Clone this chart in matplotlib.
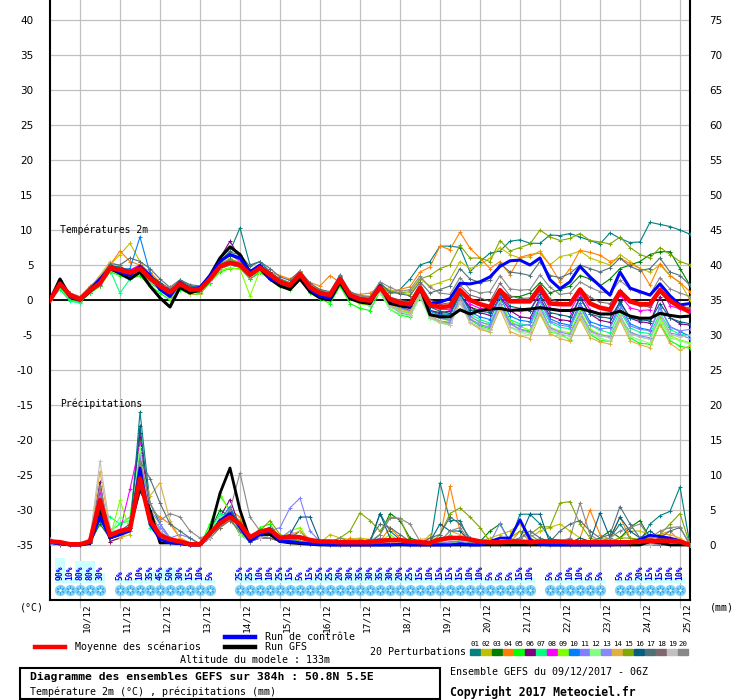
import numpy as np
import matplotlib
matplotlib.use('Agg')
import matplotlib.pyplot as plt
from matplotlib.lines import Line2D
from matplotlib.patches import Rectangle

MONO = 'DejaVu Sans Mono'

# time axis: 6-hourly steps, 0..384h from 09/12 06Z
hours = np.arange(65) * 6
day_ticks = np.arange(18, 384, 24)
day_labels = ['10/12', '11/12', '12/12', '13/12', '14/12', '15/12', '16/12', '17/12',
              '18/12', '19/12', '20/12', '21/12', '22/12', '23/12', '24/12', '25/12']

member_colors = ['#008080', '#c0c000', '#008000', '#ff8000', '#00ff00', '#800080', '#00ff80',
                 '#ff00ff', '#80ff00', '#0080ff', '#8080ff', '#80ff80', '#8888ff', '#e0b040',
                 '#80a800', '#006080', '#507078', '#806870', '#c0c0c0', '#888888']

# ---- 2m temperature (degC) ----
temp_mean = [0.0, 2.3, 0.7, 0.1, 1.4, 2.4, 4.6, 4.3, 3.9, 4.5, 3.1, 2.0, 1.1, 2.3, 1.5, 1.5, 3.0,
             4.8, 5.3, 5.0, 3.6, 4.6, 3.6, 2.6, 2.1, 3.7, 1.8, 1.0, 0.7, 3.0, 0.7, 0.1, -0.1,
             1.8, 0.1, -0.4, -0.6, 1.7, -0.7, -1.0, -0.9, 1.4, 0.0, -0.6, -1.0, 1.4, -0.2, -0.2,
             -0.2, 1.8, -0.5, -0.6, -0.6, 1.5, -0.5, -1.1, -1.4, 1.2, -0.2, -0.6, -0.6, 1.4, -0.1,
             -1.0, -1.7]
temp_ctrl = [0.0, 2.5, 0.5, 0.0, 1.5, 3.0, 4.5, 4.0, 3.5, 4.8, 3.5, 1.5, 0.5, 2.5, 1.5, 1.8, 3.5,
             5.5, 6.5, 6.0, 4.0, 5.0, 3.0, 2.5, 2.0, 3.8, 1.5, 0.5, 0.3, 3.0, 0.5, 0.0, 0.0,
             2.0, 0.0, -0.5, -0.8, 1.5, -0.5, -0.3, 0.2, 2.4, 2.3, 2.6, 3.3, 4.8, 5.6, 5.7, 5.0,
             6.0, 2.9, 1.6, 2.6, 4.8, 3.3, 2.0, 0.7, 4.0, 1.7, 1.2, 0.7, 2.3, 0.6, -0.7, -0.5]
temp_gfs = [0.0, 3.0, 0.5, 0.0, 1.2, 2.5, 4.5, 3.8, 3.0, 4.0, 2.0, 0.3, -1.0, 1.8, 1.0, 1.5, 3.5,
            6.0, 7.6, 6.5, 4.0, 4.5, 3.0, 2.0, 1.5, 3.0, 1.2, 0.3, 0.0, 2.5, 0.2, -0.3, -0.5,
            2.0, -0.5, -0.8, -1.0, 1.8, -2.1, -2.4, -2.4, -1.4, -2.0, -1.5, -1.3, -1.2, -1.5, -1.4,
            -1.3, -1.1, -1.3, -1.5, -1.5, -1.2, -1.6, -2.0, -2.0, -1.6, -2.3, -2.6, -2.6, -1.9,
            -2.2, -2.4, -2.3]

t01 = [0.0, 2.8, 0.8, 0.0, 1.5, 2.8, 4.0, 4.2, 3.5, 4.0, 3.5, 2.5, 1.5, 2.8, 2.0, 1.8, 3.5, 5.5, 7.0, 10.3,
       5.0, 5.5, 4.0, 3.0, 2.5, 3.5, 2.0, 1.2, 0.8, 3.5, 1.0, 0.5, 0.5] + \
      [2.5, 1.0, 1.5, 3.0, 5.0, 5.5, 7.7, 7.7, 7.5, 4.0, 5.5, 6.7, 7.0, 8.4, 8.6, 8.1, 8.1, 9.3, 9.2, 9.5,
       9.0, 8.5, 8.0, 9.6, 8.8, 8.2, 8.3, 11.1, 10.8, 10.5, 10.0, 9.4]
t02 = [0.0, 2.0, 0.5, 0.3, 1.8, 3.5, 5.0, 6.5, 8.1, 5.5, 3.5, 2.0, 0.5, 2.0, 1.0, 1.2, 2.8, 5.0, 6.0, 5.0,
       3.5, 4.5, 3.5, 2.8, 2.5, 4.0, 2.2, 1.5, 1.0, 3.2, 1.0, 0.6, 0.5] + \
      [2.0, 1.5, 1.0, 0.8, 3.0, 2.0, 2.5, 3.0, 5.5, 4.5, 5.0, 6.0, 7.5, 6.5, 6.0, 6.2, 7.0, 5.0, 6.2, 6.5,
       7.0, 6.0, 5.5, 5.0, 6.5, 5.5, 4.5, 4.0, 5.0, 3.5, 2.5, 0.0]
t03 = [0.0, 2.0, 0.3, -0.2, 1.0, 2.0, 4.5, 4.0, 3.8, 4.2, 2.5, 1.5, 0.5, 2.0, 1.2, 1.0, 2.5, 4.5, 5.0, 4.8,
       3.0, 4.0, 3.0, 2.0, 1.8, 3.2, 1.2, 0.5, 0.2, 2.5, 0.3, -0.2, -0.5] + \
      [1.5, -0.5, -1.0, -1.5, 1.0, -1.5, -2.0, -2.0, 0.5, -1.0, -1.5, -1.5, 1.5, 0.5, 0.5, 1.0, 2.5, 1.0,
       1.5, 2.0, 3.5, 3.0, 2.0, 3.0, 4.5, 5.0, 5.5, 6.5, 6.9, 6.9, 4.5, 2.1]
t04 = [0.0, 2.5, 1.0, 0.5, 2.0, 3.0, 5.0, 7.0, 5.5, 5.0, 4.0, 2.5, 1.5, 2.5, 1.5, 1.5, 3.0, 4.5, 5.5, 5.0,
       4.0, 5.0, 4.0, 3.5, 3.0, 4.0, 2.5, 2.0, 3.5, 2.5, 1.0, 0.8, 1.0] + \
      [1.9, 1.0, 1.5, 1.9, 4.0, 4.7, 7.7, 7.2, 9.7, 7.4, 6.0, 4.5, 5.5, 3.6, 6.1, 6.5, 6.7, 5.0, 2.6, 4.5,
       7.1, 6.8, 6.4, 5.5, 6.0, 5.2, 4.5, 2.1, 5.2, 3.5, 2.5, 1.2]
t05 = [0.0, 1.8, 0.0, -0.3, 1.0, 2.0, 4.0, 3.5, 3.0, 3.5, 2.0, 1.0, 0.0, 1.5, 0.8, 0.8, 2.5, 4.0, 4.5, 4.5,
       3.0, 4.0, 3.0, 2.0, 1.5, 3.0, 1.0, 0.2, -0.5, 2.0, -0.5, -1.2, -1.5] + \
      [1.2, -1.3, -2.2, -2.4, 0.8, -2.6, -3.1, -3.3, -0.2, -2.8, -3.7, -4.1, -0.6, -3.3, -4.2, -4.4, -1.8,
       -4.6, -4.8, -5.7, -2.3, -4.9, -5.8, -5.9, -2.1, -5.4, -6.2, -6.3, -3.4, -5.8, -6.6, -6.9]
t06 = [0.0, 2.2, 0.8, 0.2, 1.6, 3.2, 5.0, 4.5, 4.2, 5.0, 3.5, 2.5, 1.5, 2.6, 1.8, 1.8, 3.2, 6.0, 8.4, 6.0,
       4.0, 5.0, 4.0, 2.8, 2.2, 3.8, 2.0, 1.0, 0.8, 3.0, 0.8, 0.0, -0.3] + \
      [1.5, -0.3, -1.0, -1.2, 1.2, -1.5, -1.8, -1.6, 0.8, -1.0, -1.8, -2.2, 0.5, -1.5, -2.4, -2.6, 0.3, -2.3,
       -2.8, -3.0, 0.4, -2.0, -2.9, -3.2, -0.2, -2.6, -3.1, -3.3, 0.5, -2.5, -3.4, -3.6]
t07 = [0.0, 1.5, -0.2, -0.4, 1.2, 2.8, 4.3, 1.0, 3.0, 3.8, 2.5, 1.5, 0.6, 2.4, 1.5, 1.3, 2.8, 4.6, 5.0, 4.7,
       3.3, 4.2, 3.3, 2.3, 1.8, 3.4, 1.5, 0.8, 0.3, 2.7, 0.4, -0.4, -0.8] + \
      [1.2, -0.8, -1.5, -1.9, 1.0, -1.9, -2.5, -2.8, 0.2, -2.0, -2.8, -3.3, -0.3, -2.8, -3.4, -3.6, -0.9,
       -3.2, -3.9, -4.1, -1.0, -3.6, -4.3, -4.7, -1.6, -4.0, -4.6, -4.8, -1.9, -4.2, -4.9, -5.1]
t08 = [0.0, 2.4, 0.8, 0.2, 1.6, 2.8, 4.8, 4.6, 4.3, 5.0, 3.2, 2.2, 1.0, 2.5, 1.6, 1.7, 3.3, 5.5, 6.5, 5.5,
       3.8, 4.9, 3.7, 2.7, 2.2, 3.8, 1.9, 1.1, 0.8, 3.1, 0.7, 0.1, 0.0] + \
      [1.9, 0.2, -0.5, -0.9, 1.6, -0.9, -1.3, -1.4, 1.2, -0.6, -1.2, -1.6, 0.9, -1.3, -1.6, -1.5, 1.2, -1.2,
       -1.4, -1.6, 0.9, -1.4, -1.9, -2.0, 0.7, -1.1, -1.5, -1.4, 1.7, -0.8, -1.3, -1.5]
t09 = [0.0, 2.0, 0.4, 0.0, 1.3, 2.6, 4.2, 3.8, 3.6, 4.0, 2.6, 1.6, 0.2, 1.9, 1.2, 1.4, 2.7, 4.3, 4.6, 4.4,
       0.6, 4.2, 3.3, 2.4, 1.7, 3.3, 1.4, 0.6, 0.4, 2.5, 0.2, -0.6, -0.7] + \
      [1.4, -1.0, -1.6, -1.8, 0.9, -2.2, -2.6, -3.0, 0.6, -2.4, -3.1, -3.7, -0.2, -3.0, -3.8, -4.3, -1.1,
       -3.9, -4.4, -4.7, -1.5, -4.2, -4.9, -5.2, -2.2, -4.6, -5.3, -5.6, -2.6, -5.1, -5.7, -6.1]
t10 = [0.0, 2.3, 0.6, 0.1, 1.5, 2.5, 4.6, 4.3, 4.5, 9.0, 3.8, 2.0, 0.8, 2.2, 1.4, 1.6, 3.1, 5.0, 5.8, 5.2,
       3.7, 4.4, 3.2, 2.4, 1.9, 3.6, 1.6, 0.7, 0.5, 2.9, 0.5, -0.2, -0.3] + \
      [1.6, -0.4, -1.1, -1.5, 1.5, -1.6, -2.2, -2.1, 0.9, -1.7, -2.4, -2.8, 0.4, -2.3, -2.9, -3.1, 0.1, -2.7,
       -3.3, -3.6, -0.4, -3.1, -3.6, -3.9, -0.6, -3.4, -4.0, -4.3, -1.1, -3.8, -4.5, -5.2]
t11 = [0.0, 2.1, 0.5, 0.0, 1.4, 2.3, 4.4, 4.1, 3.6, 4.1, 2.9, 1.8, 0.9, 2.1, 1.3, 1.3, 2.9, 4.5, 5.0, 4.7,
       3.4, 4.4, 3.4, 2.4, 1.9, 3.5, 1.6, 0.8, 0.5, 2.8, 0.5, -0.1, -0.4] + \
      [1.3, -0.8, -1.8, -2.2, 0.6, -2.3, -3.0, -3.2, 0.2, -2.7, -3.5, -3.9, -0.5, -3.3, -3.7, -3.5, -0.2,
       -3.0, -3.6, -3.8, -0.8, -3.5, -4.1, -4.0, -1.2, -3.7, -4.2, -4.4, -1.0, -3.9, -4.4, -4.2]
t12 = [0.0, 2.2, 0.6, 0.0, 1.3, 2.4, 4.4, 4.2, 3.8, 4.3, 3.0, 1.9, 1.0, 2.2, 1.4, 1.5, 2.9, 4.6, 5.2, 4.8,
       3.5, 4.5, 3.5, 2.5, 2.0, 3.6, 1.7, 0.9, 0.6, 2.9, 0.6, 0.0, -0.3] + \
      [1.0, -1.3, -2.0, -2.3, 0.3, -2.6, -3.3, -3.6, -0.4, -3.3, -4.0, -4.5, -0.9, -3.9, -4.6, -5.0, -1.6,
       -4.4, -5.1, -5.5, -2.4, -4.8, -5.4, -5.9, -2.8, -5.2, -5.7, -6.2, -3.0, -5.4, -5.8, -6.3]
t13 = [0.0, 2.4, 0.7, 0.1, 1.5, 2.6, 4.7, 4.4, 4.0, 4.6, 3.2, 2.1, 1.2, 2.4, 1.6, 1.6, 3.1, 4.9, 5.4, 5.1,
       3.7, 4.7, 3.7, 2.7, 2.2, 3.8, 1.9, 1.1, 0.8, 3.1, 0.8, 0.2, 0.0] + \
      [1.7, -0.5, -1.2, -1.6, 1.3, -2.0, -2.6, -2.9, 0.5, -2.3, -3.2, -3.5, -0.5, -3.4, -4.2, -4.6, -1.0,
       -4.0, -4.6, -4.9, -1.9, -4.4, -5.0, -5.2, -2.5, -4.6, -5.1, -5.4, -2.2, -4.7, -5.0, -5.5]
t14 = [0.0, 2.6, 0.9, 0.3, 1.7, 3.5, 5.5, 4.8, 4.0, 4.7, 3.3, 2.3, 1.3, 2.6, 0.8, 0.9, 2.8, 4.6, 5.1, 4.8,
       3.4, 4.4, 3.4, 2.4, 1.9, 3.5, 1.6, 0.8, 0.4, 2.6, 0.3, -0.3, -0.6] + \
      [1.4, -0.7, -1.3, -1.7, 1.1, -2.3, -3.0, -3.5, -0.2, -3.2, -4.2, -4.6, -1.3, -4.5, -5.1, -5.5, -2.0,
       -4.8, -5.5, -5.9, -2.7, -5.4, -6.0, -6.3, -2.9, -5.8, -6.4, -6.8, -3.5, -6.2, -7.2, -6.5]
t15 = [0.0, 2.3, 0.8, 0.2, 1.6, 2.7, 4.8, 4.6, 4.1, 4.6, 3.4, 2.3, 1.3, 2.4, 1.6, 1.6, 3.2, 5.2, 5.8, 5.4,
       4.0, 5.0, 3.9, 2.9, 2.4, 4.0, 2.1, 1.3, 1.0, 3.3, 1.0, 0.4, 0.3] + \
      [2.2, 1.0, 1.0, 1.2, 3.0, 3.5, 4.5, 5.0, 7.8, 6.0, 6.0, 5.5, 8.5, 7.0, 7.5, 8.0, 10.0, 9.0, 8.5, 8.8,
       9.5, 8.5, 8.3, 8.0, 9.0, 7.5, 6.5, 6.0, 7.5, 6.5, 5.5, 5.0]
t16 = [0.0, 2.5, 0.9, 0.3, 1.6, 2.6, 4.9, 4.7, 4.2, 4.6, 3.6, 2.4, 1.4, 2.6, 1.7, 1.8, 3.3, 5.6, 6.3, 5.8,
       4.2, 5.0, 3.8, 2.8, 2.3, 3.9, 2.0, 1.2, 0.9, 3.3, 0.9, 0.3, 0.2] + \
      [2.0, 0.3, -0.4, -0.8, 1.8, -1.0, -1.6, -1.9, 0.9, -1.4, -1.6, -1.8, 1.0, -0.9, -1.2, -1.5, 0.8, -1.8,
       -2.1, -2.4, 0.3, -2.0, -2.4, -2.6, -0.3, -2.5, -2.8, -3.0, -0.5, -2.6, -3.1, -3.4]
t17 = [0.0, 2.6, 1.0, 0.4, 1.8, 3.0, 5.2, 5.0, 6.0, 5.5, 4.5, 3.0, 1.8, 2.9, 2.2, 2.0, 3.5, 5.6, 6.8, 6.5,
       4.8, 5.5, 4.5, 3.3, 2.8, 4.2, 2.4, 1.5, 1.2, 3.6, 1.2, 0.6, 0.5] + \
      [2.4, 1.2, 0.9, 0.6, 2.6, 1.0, 1.5, 2.0, 4.5, 3.0, 2.5, 2.8, 5.2, 4.0, 3.8, 3.5, 5.5, 3.5, 3.2, 3.8,
       5.0, 4.5, 4.0, 4.6, 6.0, 4.8, 4.2, 4.5, 6.0, 4.0, 3.5, 2.1]
t18 = [0.0, 2.1, 0.5, 0.0, 1.7, 2.2, 4.3, 4.5, 3.7, 4.3, 3.4, 2.2, 1.4, 2.0, 1.7, 1.3, 2.8, 5.0, 5.6, 4.7,
       3.3, 4.8, 3.8, 2.4, 1.9, 3.9, 2.0, 0.8, 0.5, 3.2, 0.9, 0.3, 0.1] + \
      [2.0, 0.4, 0.0, -0.3, 2.3, 0.0, -0.6, -0.4, 2.1, 0.7, 0.3, -0.2, 2.4, 0.6, 0.2, 0.3, 2.2, 0.2, -0.4,
       -0.6, 1.6, 0.4, -0.3, -0.5, 1.4, -0.2, -0.8, -1.0, 1.6, -0.3, -0.9, -1.1]
t19 = [0.0, 2.4, 0.6, 0.1, 1.3, 2.4, 4.5, 4.0, 3.7, 4.3, 3.0, 1.7, 0.6, 2.1, 1.3, 1.4, 2.9, 4.6, 5.1, 4.8,
       3.5, 4.5, 3.5, 2.5, 2.0, 3.5, 1.6, 0.7, 0.4, 2.7, 0.3, -0.4, -0.6] + \
      [1.5, -0.9, -1.7, -2.1, 0.7, -2.4, -3.2, -3.6, -0.3, -3.2, -3.9, -4.3, -0.8, -3.8, -4.4, -4.7, -1.5,
       -4.2, -4.8, -5.2, -2.2, -4.6, -5.1, -5.4, -2.3, -4.8, -5.3, -5.6, -2.0, -4.9, -5.3, -5.0]
t20 = [0.0, 2.5, 0.8, 0.2, 1.5, 2.7, 4.7, 4.5, 4.0, 4.7, 3.3, 2.2, 1.8, 2.4, 1.7, 1.6, 3.2, 5.0, 5.6, 5.2,
       3.8, 4.7, 3.7, 2.7, 2.3, 4.2, 1.9, 1.1, 0.9, 3.3, 1.0, 0.6, 0.4] + \
      [2.6, 1.8, 1.2, 1.5, 3.4, 1.8, 1.0, 0.8, 3.2, 1.5, 1.0, 1.2, 3.5, 1.6, 1.4, 1.5, 3.6, 1.8, 0.8, 1.0,
       2.6, 1.8, 1.2, 0.9, 2.8, 1.6, 1.0, 0.8, 3.2, 1.6, 1.0, 0.5]
temp_members = [t01, t02, t03, t04, t05, t06, t07, t08, t09, t10,
                t11, t12, t13, t14, t15, t16, t17, t18, t19, t20]

# ---- precipitation (mm / 6h) ----
prec_mean = [0.5, 0.4, 0.1, 0.1, 0.5, 6.4, 1.4, 2.0, 2.3, 9.5,
             3.5, 1.4, 0.8, 0.5, 0.1, 0.1, 1.7, 3.1, 4.0, 3.0,
             1.1, 1.9, 2.2, 1.0, 1.2, 1.1, 0.7, 0.5, 0.5, 0.4,
             0.4, 0.4, 0.4, 0.6, 0.7, 0.7, 0.5, 0.4, 0.3, 0.8,
             1.0, 1.0, 0.8, 0.5, 0.4, 0.4, 0.5, 0.5, 0.4, 0.5,
             0.5, 0.5, 0.4, 0.4, 0.4, 0.4, 0.4, 0.4, 0.4, 0.5,
             0.6, 0.6, 0.6, 0.5, 0.0]
prec_ctrl = [0.3, 0.2, 0.0, 0.0, 0.3, 4.0, 1.0, 1.5, 2.0, 11.0,
             3.0, 0.8, 0.3, 0.2, 0.0, 0.0, 1.5, 3.5, 4.5, 2.5,
             0.5, 1.5, 2.0, 0.5, 0.5, 0.3, 0.2, 0.1, 0.0, 0.0,
             0.0, 0.0, 0.0, 0.0, 0.0, 0.1, 0.0, 0.0, 0.0, 0.0,
             0.0, 0.2, 0.0, 0.0, 0.5, 1.0, 1.0, 3.6, 0.8, 0.1,
             0.0, 0.0, 0.0, 0.0, 0.0, 0.0, 0.0, 0.1, 0.3, 0.8,
             1.4, 1.2, 1.0, 0.6, 0.0]
prec_gfs = [0.4, 0.2, 0.0, 0.0, 0.2, 5.0, 1.0, 1.5, 2.5, 8.0,
            5.0, 0.3, 0.3, 0.2, 0.0, 0.0, 2.0, 7.4, 11.0, 5.0,
            0.8, 1.5, 1.5, 0.5, 0.3, 0.2, 0.1, 0.0, 0.0, 0.0,
            0.0, 0.0, 0.0, 0.0, 0.0, 0.0, 0.0, 0.0, 0.0, 0.0,
            0.0, 0.0, 0.0, 0.0, 0.0, 0.0, 0.0, 0.0, 0.0, 0.0,
            0.0, 0.0, 0.0, 0.0, 0.0, 0.0, 0.0, 0.0, 0.0, 0.0,
            0.5, 0.3, 0.0, 0.0, 0.0]

p01 = [0.8, 0.3, 0.0, 0.1, 0.5, 5.0, 1.0, 1.5, 2.0, 19.0, 6.0, 3.0, 1.0, 0.5, 0.2, 0.0, 1.5, 3.0, 4.0, 3.0,
       1.0, 2.0, 2.5, 1.0, 1.0, 0.5, 0.3, 0.2, 0.2, 0.1, 0.3, 0.5, 0.2, 4.5, 2.0, 0.8, 0.5, 0.3, 0.0, 8.9,
       3.5, 3.5, 0.5, 0.3, 0.2, 0.0, 0.5, 4.4, 4.4, 3.0, 1.0, 0.5, 0.8, 0.3, 0.2, 0.5, 1.0, 3.0, 1.0, 0.5,
       3.0, 4.2, 4.8, 8.3, 0.0]
p02 = [0.6, 0.2, 0.0, 0.0, 0.6, 7.0, 0.5, 1.0, 1.5, 12.0, 5.0, 2.0, 0.5, 0.3, 0.0, 0.0, 1.0, 2.5, 3.5, 2.0,
       0.5, 1.5, 2.0, 0.8, 0.7, 0.5, 0.4, 0.3, 1.5, 1.0, 0.8, 1.0, 0.8, 0.3, 1.0, 0.5, 0.2, 0.0, 1.5, 0.3,
       0.2, 0.1, 0.3, 0.5, 1.0, 1.5, 2.0, 3.0, 1.0, 2.0, 2.5, 3.0, 2.0, 1.0, 0.5, 0.3, 0.5, 1.0, 2.0, 2.0,
       1.5, 1.0, 0.8, 0.5, 0.0]
p03 = [0.4, 0.1, 0.0, 0.0, 0.3, 3.0, 1.0, 2.0, 2.5, 10.0, 3.0, 1.0, 0.3, 0.1, 0.0, 0.0, 2.0, 5.0, 4.0, 1.5,
       0.5, 1.5, 1.0, 0.5, 1.0, 2.0, 0.5, 0.2, 0.1, 0.1, 0.2, 0.1, 0.3, 1.5, 4.5, 3.5, 1.0, 0.5, 0.3, 0.3,
       0.2, 0.1, 0.2, 0.5, 2.0, 3.0, 0.5, 0.3, 0.3, 0.2, 0.2, 0.3, 0.5, 0.3, 0.5, 1.0, 2.0, 1.0, 2.5, 3.5,
       1.0, 1.5, 0.5, 0.3, 0.0]
p04 = [0.5, 0.2, 0.0, 0.0, 0.5, 8.0, 1.0, 1.5, 2.0, 14.0, 5.0, 4.0, 3.0, 1.0, 0.3, 0.0, 1.5, 3.5, 5.0, 4.0,
       1.0, 2.0, 1.5, 0.5, 1.0, 0.8, 0.5, 0.3, 0.0, 0.0, 1.0, 0.5, 0.3, 0.5, 2.5, 1.0, 0.5, 0.3, 0.5, 1.0,
       8.4, 2.0, 0.5, 0.5, 0.3, 0.5, 0.3, 2.0, 0.5, 0.3, 0.2, 0.5, 0.3, 1.0, 5.0, 1.5, 0.8, 4.0, 1.0, 0.5,
       0.8, 1.5, 2.0, 0.5, 0.0]
p05 = [0.3, 0.0, 0.0, 0.0, 0.3, 4.0, 2.0, 3.0, 4.0, 15.0, 3.0, 1.0, 0.5, 0.2, 0.0, 0.0, 3.0, 7.0, 5.0, 2.0,
       0.5, 2.5, 3.0, 1.0, 0.5, 0.5, 0.3, 0.1, 0.0, 0.0, 0.0, 0.2, 0.3, 0.5, 1.0, 0.5, 0.3, 0.2, 0.5, 0.0,
       0.3, 0.5, 0.3, 0.2, 0.1, 0.0, 0.2, 0.5, 0.3, 0.2, 0.0, 0.0, 0.2, 0.2, 0.0, 0.5, 0.3, 0.2, 0.0, 0.0,
       0.2, 0.3, 0.5, 0.3, 0.0]
p06 = [0.5, 0.1, 0.0, 0.0, 0.4, 9.0, 0.5, 1.0, 2.5, 16.0, 4.0, 1.5, 0.3, 0.1, 0.0, 0.0, 1.0, 4.0, 6.5, 2.5,
       1.0, 1.0, 1.0, 0.5, 0.3, 0.2, 0.1, 0.0, 0.0, 0.0, 0.0, 0.0, 0.0, 0.2, 0.0, 0.0, 0.0, 0.0, 0.0, 0.0,
       0.0, 0.0, 0.0, 0.0, 0.5, 0.0, 0.0, 0.3, 0.0, 0.0, 0.0, 0.0, 0.2, 0.0, 0.0, 0.0, 0.0, 0.3, 0.0, 0.0,
       0.0, 0.2, 0.0, 0.0, 0.0]
p07 = [0.4, 0.1, 0.0, 0.0, 0.5, 5.0, 4.0, 3.0, 3.5, 13.0, 2.5, 1.0, 0.5, 0.3, 0.0, 0.0, 2.0, 4.5, 4.0, 2.0,
       0.5, 1.0, 2.0, 0.5, 0.5, 0.3, 0.2, 0.0, 0.0, 0.0, 0.0, 0.0, 0.2, 0.5, 0.3, 0.2, 0.0, 0.0, 0.5, 0.3,
       1.5, 0.5, 0.2, 0.0, 0.3, 0.2, 0.0, 0.0, 0.0, 0.0, 0.0, 0.0, 0.2, 0.0, 0.2, 0.0, 0.0, 0.0, 0.2, 0.0,
       0.0, 0.0, 0.2, 0.0, 0.0]
p08 = [0.5, 0.2, 0.0, 0.0, 0.5, 7.5, 1.5, 2.0, 8.0, 14.5, 3.5, 1.0, 0.5, 0.2, 0.0, 0.0, 1.0, 3.0, 5.0, 2.5,
       0.5, 1.0, 2.0, 0.5, 1.0, 0.5, 0.2, 0.1, 0.0, 0.0, 0.0, 0.0, 0.0, 0.3, 0.5, 0.2, 0.0, 0.0, 0.3, 0.0,
       0.0, 0.0, 0.3, 0.5, 0.0, 0.0, 0.3, 0.0, 0.0, 0.0, 0.0, 0.3, 0.0, 0.0, 0.0, 0.2, 0.0, 0.0, 0.0, 0.0,
       0.0, 0.0, 0.3, 0.0, 0.0]
p09 = [0.4, 0.1, 0.0, 0.0, 0.4, 6.0, 1.0, 6.4, 2.0, 13.5, 3.0, 1.5, 0.5, 0.2, 0.0, 0.0, 2.5, 7.5, 4.5, 2.0,
       0.5, 1.5, 1.5, 0.5, 2.0, 2.5, 0.5, 0.2, 0.0, 0.0, 0.0, 0.2, 0.0, 0.5, 1.5, 0.5, 0.2, 0.0, 0.2, 0.0,
       0.2, 0.0, 0.0, 0.3, 0.2, 0.0, 0.5, 0.3, 0.0, 0.0, 0.2, 0.0, 0.0, 0.5, 0.3, 0.0, 0.0, 0.0, 0.3, 0.0,
       0.0, 0.3, 0.0, 0.0, 0.0]
p10 = [0.3, 0.0, 0.0, 0.0, 0.3, 5.5, 1.0, 1.5, 2.5, 12.5, 4.5, 2.0, 0.8, 0.3, 0.0, 0.0, 1.5, 3.5, 5.5, 2.5,
       0.5, 1.0, 1.5, 0.5, 0.8, 0.5, 0.3, 0.0, 0.0, 0.0, 0.0, 0.2, 0.0, 0.2, 0.3, 0.0, 0.0, 0.0, 0.0, 0.0,
       0.0, 0.2, 0.0, 0.0, 0.0, 0.3, 0.0, 0.0, 0.2, 0.0, 0.0, 0.0, 0.0, 0.0, 0.0, 0.0, 0.2, 0.0, 0.0, 0.0,
       0.2, 0.0, 0.0, 0.2, 0.0]
p11 = [0.5, 0.2, 0.0, 0.0, 0.3, 7.0, 1.0, 2.0, 3.0, 13.0, 4.0, 2.5, 1.0, 1.5, 1.0, 0.0, 1.0, 3.0, 4.5, 2.0,
       1.0, 1.5, 2.0, 2.5, 5.3, 6.7, 2.0, 0.5, 0.2, 0.0, 0.0, 0.2, 0.5, 1.0, 0.3, 0.0, 0.0, 0.5, 0.5, 0.2,
       0.5, 0.5, 1.0, 0.5, 0.3, 3.1, 0.2, 0.0, 0.0, 0.0, 0.0, 0.3, 0.5, 0.2, 0.0, 0.3, 0.0, 0.0, 0.2, 0.0,
       0.0, 0.2, 0.0, 0.0, 0.0]
p12 = [0.4, 0.1, 0.0, 0.0, 0.5, 6.5, 1.5, 4.0, 3.0, 14.0, 3.0, 1.0, 0.5, 0.2, 0.0, 0.0, 2.0, 4.0, 4.5, 1.5,
       0.5, 1.5, 1.0, 0.5, 0.5, 0.3, 0.2, 0.0, 0.0, 0.0, 0.0, 0.0, 0.2, 0.3, 0.5, 0.2, 0.0, 0.0, 0.3, 0.0,
       0.0, 0.3, 0.0, 0.0, 0.0, 0.2, 0.0, 0.0, 0.0, 0.0, 0.2, 0.0, 0.0, 0.0, 0.3, 0.0, 0.0, 0.0, 0.0, 0.0,
       0.0, 0.0, 0.3, 0.0, 0.0]
p13 = [0.3, 0.1, 0.0, 0.0, 0.4, 5.0, 1.0, 2.0, 2.0, 11.0, 5.0, 3.0, 1.0, 0.5, 0.3, 0.0, 1.5, 3.0, 4.0, 3.0,
       1.0, 1.5, 1.5, 1.0, 2.0, 1.0, 0.5, 0.2, 0.0, 0.0, 0.0, 0.0, 0.5, 0.5, 0.3, 0.2, 0.2, 0.0, 1.0, 0.5,
       0.3, 0.2, 0.5, 0.3, 0.5, 0.5, 0.3, 0.0, 0.0, 0.0, 0.0, 0.0, 0.5, 0.2, 0.0, 0.0, 0.3, 0.2, 0.0, 0.0,
       0.3, 0.0, 0.0, 0.2, 0.0]
p14 = [0.8, 0.3, 0.0, 0.1, 0.8, 10.5, 2.0, 1.0, 2.0, 12.0, 7.0, 8.9, 3.5, 1.0, 0.3, 0.0, 1.0, 3.0, 4.0, 2.5,
       1.0, 1.5, 2.0, 1.0, 1.5, 2.0, 0.8, 0.3, 0.2, 0.5, 0.5, 0.5, 0.5, 0.2, 0.5, 0.3, 0.5, 0.8, 1.0, 0.5,
       2.0, 1.5, 0.5, 0.2, 0.0, 0.2, 0.5, 0.3, 0.0, 0.0, 0.0, 0.3, 0.0, 0.2, 0.3, 0.8, 1.0, 0.5, 0.2, 0.5,
       1.0, 1.5, 1.5, 1.0, 0.0]
p15 = [0.6, 0.2, 0.0, 0.0, 0.5, 6.0, 1.0, 1.5, 2.0, 11.5, 3.5, 1.5, 0.5, 0.2, 0.0, 0.0, 1.0, 3.0, 4.5, 3.5,
       1.0, 2.0, 3.5, 1.5, 1.0, 0.5, 0.3, 0.2, 0.5, 1.0, 2.0, 4.6, 3.5, 2.0, 4.0, 3.8, 0.5, 0.3, 0.2, 1.5,
       4.5, 5.3, 4.0, 2.5, 0.5, 0.3, 1.0, 2.0, 1.5, 2.6, 2.6, 6.0, 6.2, 3.0, 1.0, 0.5, 0.5, 1.0, 1.0, 0.8,
       1.0, 1.5, 3.0, 4.5, 0.0]
p16 = [0.5, 0.2, 0.0, 0.0, 0.5, 3.5, 1.5, 2.0, 2.5, 17.0, 5.0, 1.5, 0.5, 0.2, 0.0, 0.0, 1.0, 3.0, 5.0, 3.0,
       1.0, 2.0, 2.5, 1.0, 1.5, 4.0, 4.0, 0.5, 0.2, 0.0, 0.0, 0.2, 0.5, 4.5, 1.0, 0.5, 0.2, 0.0, 0.5, 3.0,
       2.0, 2.0, 0.5, 0.2, 0.0, 0.3, 0.5, 1.0, 4.4, 4.4, 0.2, 0.5, 0.3, 1.0, 0.5, 4.6, 1.0, 4.0, 2.0, 1.0,
       2.0, 1.0, 0.5, 0.3, 0.0]
p17 = [0.6, 0.2, 0.0, 0.0, 0.6, 6.0, 1.0, 2.0, 3.0, 12.0, 9.5, 6.0, 3.0, 2.0, 1.0, 0.2, 1.0, 2.5, 4.0, 2.5,
       1.0, 1.5, 2.0, 1.0, 0.5, 0.3, 0.2, 0.0, 0.0, 0.3, 0.5, 0.5, 0.8, 3.0, 2.5, 1.5, 0.5, 0.2, 1.0, 1.5,
       4.0, 3.0, 1.0, 0.5, 0.2, 0.0, 0.3, 1.0, 2.0, 1.0, 0.5, 2.0, 3.0, 3.5, 2.0, 1.0, 1.5, 5.5, 3.0, 1.0,
       0.5, 1.0, 2.0, 2.5, 0.0]
p18 = [0.4, 0.1, 0.0, 0.0, 0.4, 4.5, 1.0, 1.5, 2.0, 10.5, 4.0, 2.0, 0.5, 0.2, 0.0, 0.0, 1.0, 2.5, 3.5, 2.0,
       0.5, 1.0, 1.0, 0.5, 0.5, 0.3, 0.2, 0.0, 0.0, 0.0, 0.0, 0.0, 0.2, 0.5, 0.2, 0.0, 0.0, 0.0, 0.2, 0.0,
       0.0, 0.0, 0.0, 0.2, 0.0, 0.0, 0.0, 0.2, 0.0, 0.0, 0.0, 0.0, 0.0, 0.2, 0.0, 0.0, 0.0, 0.0, 0.0, 0.0,
       0.0, 0.0, 0.2, 0.0, 0.0]
p19 = [0.7, 0.3, 0.0, 0.1, 1.0, 12.0, 2.5, 1.5, 2.0, 11.0, 4.5, 2.0, 1.0, 0.5, 0.2, 0.0, 1.0, 3.0, 4.0, 2.5,
       1.5, 1.0, 1.5, 0.5, 0.5, 0.3, 0.2, 0.0, 0.0, 0.0, 0.2, 0.3, 0.2, 0.2, 0.5, 0.3, 0.0, 0.0, 0.2, 0.0,
       0.2, 0.3, 0.0, 0.0, 0.2, 0.0, 0.0, 0.0, 0.2, 0.0, 0.0, 0.2, 0.0, 0.0, 0.3, 0.0, 0.2, 0.0, 0.0, 0.0,
       0.0, 0.3, 0.2, 0.0, 0.0]
p20 = [0.9, 0.3, 0.0, 0.1, 0.8, 8.5, 1.5, 2.0, 2.5, 12.0, 6.0, 3.5, 4.5, 4.0, 2.0, 1.0, 1.5, 3.5, 5.0, 10.3,
       4.0, 2.0, 1.5, 1.0, 0.5, 0.3, 0.2, 0.5, 0.3, 1.0, 0.5, 0.8, 0.5, 1.5, 3.8, 3.8, 3.0, 0.5, 0.2, 0.5,
       2.0, 2.5, 0.5, 0.3, 0.2, 0.5, 0.5, 1.0, 1.5, 0.5, 0.3, 0.5, 1.0, 6.0, 1.5, 0.5, 1.0, 2.0, 2.5, 3.0,
       1.0, 2.0, 2.5, 2.6, 0.0]
prec_members = [p01, p02, p03, p04, p05, p06, p07, p08, p09, p10,
                p11, p12, p13, p14, p15, p16, p17, p18, p19, p20]

# probability of snow (%) per 6h step, 0 = no symbol
snow_prob = [0, 90, 10, 80, 80, 30, 0,
             5, 5, 10, 35, 45, 50, 30, 15, 10, 5, 0, 0,
             25, 25, 10, 10, 25, 15, 5, 15, 25, 25, 20, 30, 35, 30, 35, 30, 20, 25, 15, 10,
             15, 15, 15, 10, 10, 5, 5, 5, 15, 10, 0,
             5, 5, 10, 10, 5, 5, 0,
             5, 5, 20, 15, 15, 10, 10, 0]

W, H = 740, 700


def fx(px):
    return px / W


def fy(py):
    return 1 - py / H


fig = plt.figure(figsize=(W / 100, H / 100), dpi=100)
ax = fig.add_axes([fx(50), fy(600), 640 / W, 600 / H])
ylo, yhi = -35 - 55 / 7, 40 + 20 / 7
ax.set_xlim(0, 384)
ax.set_ylim(ylo, yhi)

ax.set_yticks(np.arange(-35, 41, 5))
ax.set_yticklabels([str(v) for v in range(-35, 41, 5)], fontsize=7.5)
ax.tick_params(axis='y', length=0, pad=12)
ax.set_xticks(day_ticks)
ax.set_xticklabels([])
ax.tick_params(axis='x', length=6, color='#c0c0c0', width=0.9)
ax.grid(True, color='#c0c0c0', lw=0.9)
ax.set_axisbelow(True)
for side in ['left', 'right', 'bottom']:
    ax.spines[side].set_linewidth(1.5)
ax.spines['top'].set_visible(False)

for lab, h in zip(day_labels, day_ticks):
    ax.text(h + 4.2, -0.005, lab, transform=ax.get_xaxis_transform(), rotation=90,
            ha='center', va='top', fontsize=6.8, family=MONO)

ax.axhline(0, color='black', lw=1.3, zorder=2)

# temperature spaghetti
for serie, col in zip(temp_members, member_colors):
    ax.plot(hours, serie, color=col, lw=0.8, marker='+', ms=3, mew=0.7, zorder=3)
ax.plot(hours, temp_gfs, color='black', lw=2.2, zorder=4)
ax.plot(hours, temp_ctrl, color='#0000ff', lw=2.2, zorder=5)
ax.plot(hours, temp_mean, color='#ff0000', lw=3.3, zorder=6)

ax.text(6, 10.1, 'Températures 2m', fontsize=7, family=MONO, va='center', zorder=7)
ax.text(6, -14.85, 'Précipitations', fontsize=7, family=MONO, va='center', zorder=7)

# snow symbols and probabilities
for h, p in zip(hours, snow_prob):
    if p == 0:
        continue
    ax.bar(h, 0.3 + p * 0.036, bottom=-40.4, width=6, color='#ccffff', zorder=2)
    ax.text(h, -40.05, f'{p}%', rotation=90, ha='center', va='bottom', fontsize=5.8,
            family=MONO, fontweight='bold', color='#0000ff', zorder=7)
snow_h = [h for h, p in zip(hours, snow_prob) if p > 0]
ax.scatter(snow_h, [-41.4] * len(snow_h), s=66, marker='o', color='#7fd3f7', zorder=5, lw=0)
ax.scatter(snow_h, [-41.4] * len(snow_h), s=28, marker=(6, 2, 0), color='#3a9ee0', lw=0.6, zorder=6)
ax.scatter(snow_h, [-41.4] * len(snow_h), s=4, marker='o', color='white', lw=0, zorder=7)

# precipitation on the right scale (0 mm = -35)
ax2 = ax.twinx()
ax2.set_ylim(ylo + 35, yhi + 35)
ax2.set_yticks(np.arange(0, 76, 5))
ax2.set_yticklabels([str(v) for v in range(0, 76, 5)], fontsize=7.5)
ax2.tick_params(axis='y', length=0, pad=14)
for s in ax2.spines.values():
    s.set_visible(False)
for serie, col in zip(prec_members, member_colors):
    ax2.plot(hours, serie, color=col, lw=0.8, marker='+', ms=3, mew=0.7, zorder=3)
ax2.plot(hours, prec_gfs, color='black', lw=2.0, zorder=4)
ax2.plot(hours, prec_ctrl, color='#0000ff', lw=2.0, zorder=5)
ax2.plot(hours, prec_mean, color='#ff0000', lw=3.3, zorder=6)

# units
fig.text(fx(20), fy(607), '(°C)', fontsize=7.2, family=MONO, va='center')
fig.text(fx(710), fy(607), '(mm)', fontsize=7.2, family=MONO, va='center')

# legend
fig.add_artist(Line2D([fx(35), fx(65)], [fy(647), fy(647)], color='#ff0000', lw=3.2))
fig.text(fx(75), fy(647), 'Moyenne des scénarios', fontsize=7.2, family=MONO, va='center')
fig.add_artist(Line2D([fx(225), fx(255)], [fy(637), fy(637)], color='#0000ff', lw=3.2))
fig.text(fx(265), fy(637), 'Run de contrôle', fontsize=7.2, family=MONO, va='center')
fig.add_artist(Line2D([fx(225), fx(255)], [fy(647), fy(647)], color='black', lw=3.2))
fig.text(fx(265), fy(647), 'Run GFS', fontsize=7.2, family=MONO, va='center')
fig.text(fx(180), fy(660), 'Altitude du modele : 133m', fontsize=7.2, family=MONO, va='center')

fig.text(fx(370), fy(652), '20 Perturbations', fontsize=7.2, family=MONO, va='center')
for k, col in enumerate(member_colors):
    x0 = 470 + k * 10.95
    fig.add_artist(Rectangle((fx(x0), fy(655)), 10 / W, 6 / H, color=col,
                             transform=fig.transFigure))
    fig.text(fx(x0 + 5), fy(643.5), f'{k + 1:02d}', ha='center', va='center',
             fontsize=5.3, family=MONO)

# title block
fig.add_artist(Rectangle((fx(20), fy(699)), 420 / W, 31 / H, fill=False, lw=1.5,
                         ec='black', transform=fig.transFigure))
fig.text(fx(30), fy(677), 'Diagramme des ensembles GEFS sur 384h : 50.8N 5.5E',
         fontsize=8.2, family=MONO, fontweight='bold', va='center')
fig.text(fx(30), fy(692), 'Température 2m (°C) , précipitations (mm)',
         fontsize=7.2, family=MONO, va='center')
fig.text(fx(450), fy(672), 'Ensemble GEFS du 09/12/2017 - 06Z', fontsize=7.2, family=MONO,
         va='center')
fig.text(fx(450), fy(692), 'Copyright 2017 Meteociel.fr', fontsize=8.3, family=MONO,
         fontweight='bold', va='center')

fig.savefig('out.png', dpi=100)
